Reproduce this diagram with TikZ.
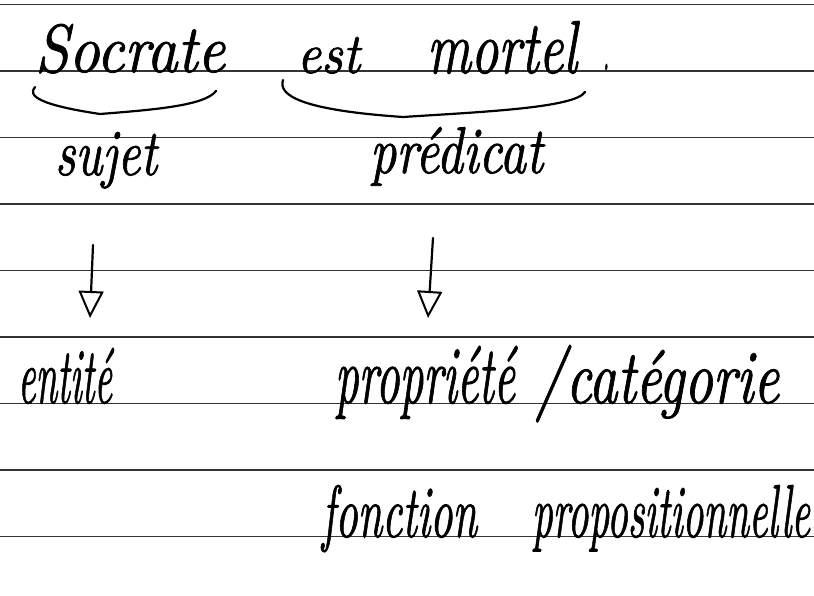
\documentclass[tikz,border=0pt]{standalone}
\usepackage{fontspec}
\usepackage{graphicx}
\usetikzlibrary{arrows.meta}
\newfontfamily\hwfont{lmroman10-italic.otf}[FakeBold=1.2]
\tikzset{
  ruled/.style={draw=black!80, line width=1.2pt},
  hw/.style={inner sep=0pt, outer sep=0pt, anchor=base west, font=\hwfont},
  ink/.style={line width=2.2pt, line cap=round, line join=round},
  arr/.style={ink, -{Triangle[open, length=27pt, width=25pt, line width=2pt]}}
}
\begin{document}
\begin{tikzpicture}[x=1pt, y=-1pt]
  \useasboundingbox (0,0) rectangle (814,596);
  \fill[white] (0,0) rectangle (814,596);
  % ruled lines
  \foreach \k in {0,...,8} {
    \draw[ruled] (0,{4.5+66.5*\k}) -- (814,{4.5+66.5*\k});
  }
  % sentence
  \node[hw] (socrate) at (35,72) {\resizebox{190pt}{48pt}{Socrate}};
  \node[hw] (est) at (297,73) {\resizebox{63pt}{36pt}{est}};
  \node[hw] (mortel) at (427,73) {\resizebox{150pt}{52pt}{mortel}};
  \node[hw] (point) at (603,70) {\resizebox{6pt}{6pt}{.}};
  % braces
  \draw[ink] (35,87) .. controls (27,96) and (40,105) .. (100,114)
             .. controls (150,110) and (205,106) .. (216,91);
  \draw[ink] (283,80) .. controls (278,95) and (300,110) .. (403,117)
             .. controls (480,112) and (575,108) .. (585,92);
  % labels
  \node[hw] (sujet) at (55,175) {\resizebox{102pt}{43pt}{sujet}};
  \node[hw] (predicat) at (370,173) {\resizebox{173pt}{46pt}{prédicat}};
  % arrows
  \coordinate (s1) at (93,245);
  \coordinate (e1) at (90,318);
  \coordinate (s2) at (433,238);
  \coordinate (e2) at (428,318);
  \draw[arr] (s1) -- (e1);
  \draw[arr] (s2) -- (e2);
  % lower lines
  \node[hw] (entite) at (18,403) {\resizebox{94pt}{55pt}{entité}};
  \node[hw] (propriete) at (335,403) {\resizebox{180pt}{57pt}{propriété}};
  \node[hw] (slash) at (535,403) {\resizebox{30pt}{58pt}{/}};
  \node[hw] (categorie) at (566,403) {\resizebox{213pt}{53pt}{catégorie}};
  \node[hw] (fonction) at (322,537) {\resizebox{155pt}{52pt}{fonction}};
  \node[hw] (propositionnelle) at (532,537) {\resizebox{278pt}{52pt}{propositionnelle}};
\end{tikzpicture}
\end{document}
